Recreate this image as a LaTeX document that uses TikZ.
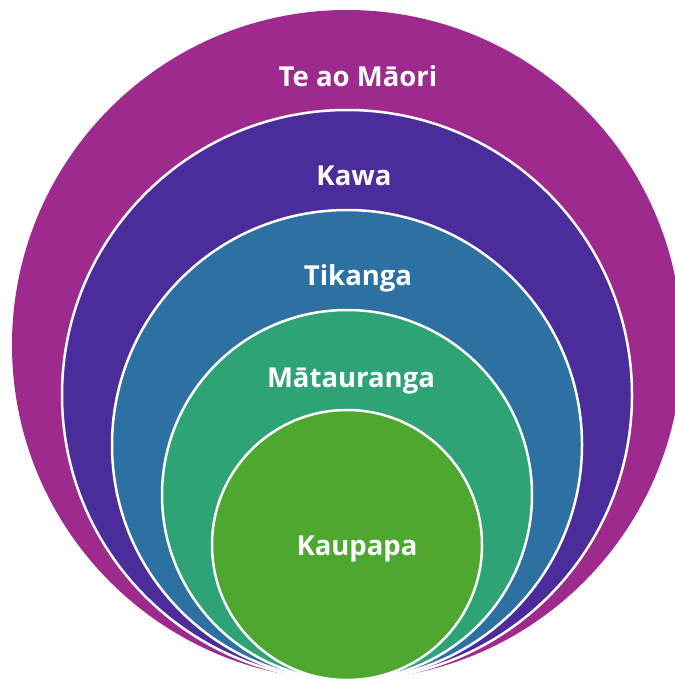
\documentclass[tikz,border=0pt]{standalone}
\usepackage{fontspec}
\setmainfont{Open Sans}
\begin{document}
\definecolor{maori}{HTML}{9E2A8E}
\definecolor{kawa}{HTML}{4A2C9B}
\definecolor{tikanga}{HTML}{2D70A2}
\definecolor{matauranga}{HTML}{2DA376}
\definecolor{kaupapa}{HTML}{4EA72E}
\begin{tikzpicture}[x=1pt,y=-1pt,
  ring/.style={draw=white,line width=2.5pt},
  lbl/.style={text=white,font=\fontsize{27.5}{32}\selectfont\bfseries,anchor=base,inner sep=0pt}]
\useasboundingbox (0,0) rectangle (674,679);
% nested circles, all touching at the bottom
\fill[maori] (347,345) circle[radius=335];
\filldraw[ring,fill=kawa] (347,395) circle[radius=285];
\filldraw[ring,fill=tikanga] (347,445) circle[radius=235];
\filldraw[ring,fill=matauranga] (347,495) circle[radius=185];
\filldraw[ring,fill=kaupapa] (347,545) circle[radius=135];
% labels
\node[lbl] (tao) at (358,87) {Te ao Māori};
\node[lbl] (kw) at (354,185) {Kawa};
\node[lbl] (tk) at (358,285) {Tikanga};
\node[lbl] (mt) at (351,387) {Mātauranga};
\node[lbl] (kp) at (357,555) {Kaupapa};
\end{tikzpicture}
\end{document}
